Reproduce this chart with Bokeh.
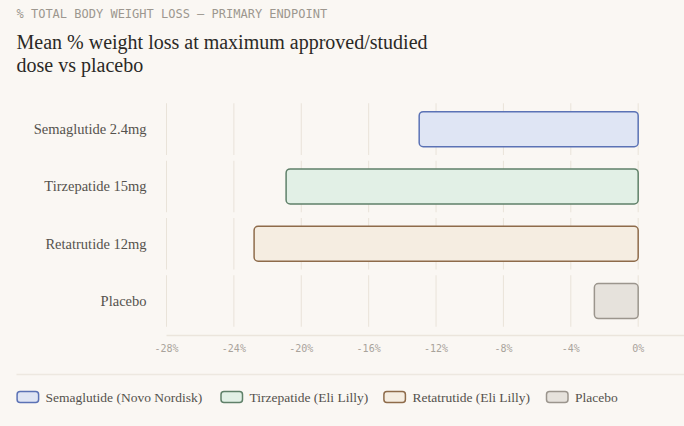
from bokeh.plotting import figure
from bokeh.layouts import column
from bokeh.models import Range1d, FixedTicker, ColumnDataSource
from bokeh.core.properties import value
from bokeh.embed import file_html
from bokeh.resources import INLINE

# ---- data ----
categories = ["Semaglutide 2.4mg", "Tirzepatide 15mg", "Retatrutide 12mg", "Placebo"]
weight_loss = [-13.0, -20.9, -22.8, -2.6]
fill_colors = ["#dfe5f4", "#e2f0e6", "#f5ede1", "#e6e2dc"]
line_colors = ["#5b72b5", "#5f8069", "#8e6b4a", "#9b958d"]
legend_labels = ["Semaglutide (Novo Nordisk)", "Tirzepatide (Eli Lilly)", "Retatrutide (Eli Lilly)", "Placebo"]
x_ticks = [-28, -24, -20, -16, -12, -8, -4, 0]
x_tick_labels = ["-28%", "-24%", "-20%", "-16%", "-12%", "-8%", "-4%", "0%"]
kicker = "% TOTAL BODY WEIGHT LOSS \u2014 PRIMARY ENDPOINT"
title_lines = ["Mean % weight loss at maximum approved/studied", "dose vs placebo"]

# ---- style / layout ----
BG = "#faf7f3"
GRID = "#e9e3d9"
SERIF = "Liberation Serif"
MONO = "DejaVu Sans Mono"
W = 684
X_MIN, X_MAX = -28, 2.75          # visible value domain of the bar area
PLOT_LEFT = 166                    # canvas px where the value domain starts
PX_PER_UNIT = (W - PLOT_LEFT) / (X_MAX - X_MIN)


def base_fig(h, **kw):
    return figure(width=W, height=h, output_backend="svg", toolbar_location=None,
                  background_fill_color=BG, border_fill_color=BG, outline_line_color=None, **kw)


# ---- header ----
hdr = base_fig(90, x_range=Range1d(0, W), y_range=Range1d(90, 0), min_border=0,
               x_axis_location=None, y_axis_location=None)
hdr.grid.visible = False
hdr.text(x=[16], y=[13], text=[kicker], text_font=value(MONO), text_font_size="12px",
         text_color="#9d978f", text_baseline="middle", text_align="left")
hdr.text(x=[16, 16], y=[41, 64], text=title_lines, text_font=value(SERIF), text_font_size="20px",
         text_color="#2b2926", text_baseline="middle", text_align="left")

# ---- main chart ----
n = len(categories)
ypos = [n - 1 - i for i in range(n)]
p = base_fig(280, x_range=Range1d(X_MIN - PLOT_LEFT / PX_PER_UNIT, X_MAX),
             y_range=Range1d(-0.601, 3.5), y_axis_location=None,
             min_border_left=0, min_border_right=0, min_border_top=10, min_border_bottom=35)
p.extra_x_ranges = {"px": Range1d(0, W)}
p.grid.visible = False

gx, gy = [], []
for yy in ypos:
    for t in x_ticks:
        gx.append(t)
        gy.append(yy)
p.rect(x=gx, y=gy, width=1, width_units="screen", height=0.9, fill_color=GRID, line_color=None)

src = ColumnDataSource(dict(y=ypos, left=weight_loss, right=[0] * n, fill=fill_colors,
                            line=line_colors, cat=categories, lx=[PLOT_LEFT - 20] * n))
p.hbar(y="y", left="left", right="right", height=0.61, source=src, fill_color="fill",
       line_color="line", line_width=1.5, border_radius=4)
p.text(x="lx", y="y", text="cat", source=src, x_range_name="px", text_font=value(SERIF),
       text_font_size="14.5px", text_color="#55524d", text_baseline="middle", text_align="right")

p.xaxis.ticker = FixedTicker(ticks=x_ticks)
p.xaxis.bounds = (X_MIN, X_MAX)
p.xaxis.major_label_overrides = {t: l for t, l in zip(x_ticks, x_tick_labels)}
p.xaxis.major_label_text_font = MONO
p.xaxis.major_label_text_font_size = "10px"
p.xaxis.major_label_text_color = "#a9a39b"
p.xaxis.major_label_standoff = 7
p.xaxis.major_tick_out = 0
p.xaxis.major_tick_in = 0
p.xaxis.major_tick_line_color = None
p.xaxis.minor_tick_line_color = None
p.xaxis.axis_line_color = "#ebe5dc"
p.xaxis.axis_line_width = 1.5

# ---- legend ----
lg = base_fig(56, x_range=Range1d(0, W), y_range=Range1d(56, 0), min_border=0,
              x_axis_location=None, y_axis_location=None)
lg.grid.visible = False
lg.segment(x0=[16], x1=[W], y0=[4], y1=[4], line_color="#ede8e0", line_width=1.5)
sw_x = [16.6, 220.5, 383.4, 546]
lg.hbar(y=[26.5] * n, left=sw_x, right=[x + 21.5 for x in sw_x], height=11,
        fill_color=fill_colors, line_color=line_colors, line_width=1.5, border_radius=3)
lg.text(x=[x + 28.5 for x in sw_x], y=[26.5] * n, text=legend_labels, text_font=value(SERIF),
        text_font_size="13.5px", text_color="#55524d", text_baseline="middle", text_align="left")

layout = column(hdr, p, lg, spacing=0, background=BG)
open("out.html", "w").write(file_html(layout, INLINE))
